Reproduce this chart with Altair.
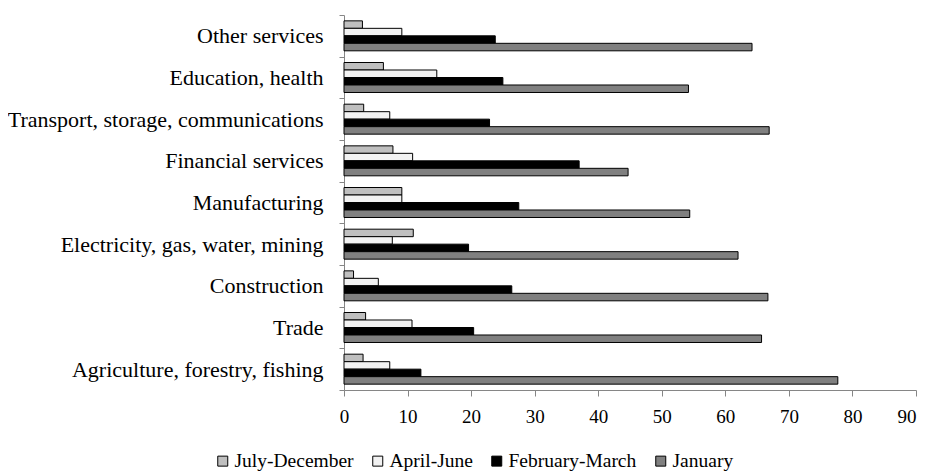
import altair as alt
import pandas as pd

sectors = [
    "Other services",
    "Education, health",
    "Transport, storage, communications",
    "Financial services",
    "Manufacturing",
    "Electricity, gas, water, mining",
    "Construction",
    "Trade",
    "Agriculture, forestry, fishing",
]
periods = ["July-December", "April-June", "February-March", "January"]

jul_dec = [2.9, 6.2, 3.1, 7.7, 9.1, 10.9, 1.5, 3.4, 3.0]
apr_jun = [9.1, 14.6, 7.2, 10.8, 9.1, 7.6, 5.4, 10.7, 7.2]
feb_mar = [23.8, 25.0, 22.9, 37.0, 27.5, 19.6, 26.4, 20.4, 12.1]
january = [64.2, 54.2, 66.9, 44.7, 54.4, 62.0, 66.7, 65.7, 77.7]

colors = ["#bfbfbf", "#f2f2f2", "#000000", "#808080"]
x_ticks = [0, 10, 20, 30, 40, 50, 60, 70, 80, 90]

rows = []
for series_name, vals in zip(periods, [jul_dec, apr_jun, feb_mar, january]):
    for s, v in zip(sectors, vals):
        rows.append({"sector": s, "period": series_name, "value": v})
df = pd.DataFrame(rows)

FONT = "Liberation Serif"
AXIS_GRAY = "#868686"

chart = (
    alt.Chart(df)
    .mark_bar(stroke="black", strokeWidth=1)
    .encode(
        x=alt.X(
            "value:Q",
            scale=alt.Scale(domain=[0, 90], nice=False),
            axis=alt.Axis(
                values=x_ticks,
                title=None,
                grid=False,
                domainColor=AXIS_GRAY,
                tickColor=AXIS_GRAY,
                tickSize=6,
                labelFont=FONT,
                labelFontSize=19,
                labelColor="black",
                labelPadding=11,
                labelAlign={
                    "condition": {"test": "datum.value == 90", "value": "right"},
                    "value": "center",
                },
            ),
        ),
        y=alt.Y(
            "sector:N",
            sort=sectors,
            scale=alt.Scale(paddingInner=0, paddingOuter=0),
            axis=alt.Axis(
                title=None,
                tickBand="extent",
                domainColor=AXIS_GRAY,
                tickColor=AXIS_GRAY,
                tickSize=5,
                labelFont=FONT,
                labelFontSize=22,
                labelColor="black",
                labelPadding=16,
                labelLimit=400,
            ),
        ),
        yOffset=alt.YOffset(
            "period:N",
            sort=periods,
            scale=alt.Scale(paddingInner=0, paddingOuter=0.78),
        ),
        color=alt.Color(
            "period:N",
            sort=periods,
            scale=alt.Scale(domain=periods, range=colors),
            legend=alt.Legend(
                title=None,
                orient="none",
                direction="horizontal",
                columns=4,
                legendX=-131,
                legendY=436,
                padding=0,
                symbolType="square",
                symbolSize=100,
                symbolStrokeColor="black",
                symbolStrokeWidth=1,
                symbolOpacity=1,
                labelFont=FONT,
                labelFontSize=19.5,
                labelColor="black",
                labelOffset=2,
                columnPadding=14,
            ),
        ),
    )
    .properties(
        width=572,
        height=375,
        autosize=alt.AutoSizeParams(type="none"),
        padding={"left": 336, "top": 7, "right": 4, "bottom": 84},
    )
    .configure_view(stroke=None)
)

chart.save("out.html", embed_options={"renderer": "svg", "actions": False})
